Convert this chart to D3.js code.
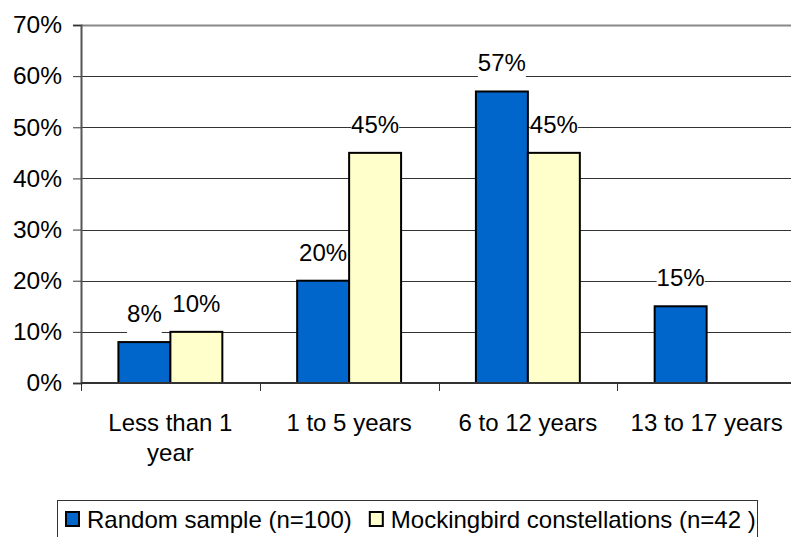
<!DOCTYPE html>
<html>
<head>
<meta charset="utf-8">
<script src="https://cdn.jsdelivr.net/npm/d3@7"></script>
<style>
  body { margin: 0; background: #fff; }
  text { font-family: "Liberation Sans", Arial, sans-serif; fill: #000; }
</style>
</head>
<body>
<div id="chart"></div>
<script>
var categories = ["Less than 1 year", "1 to 5 years", "6 to 12 years", "13 to 17 years"];
var categoryLines = [["Less than 1", "year"], ["1 to 5 years"], ["6 to 12 years"], ["13 to 17 years"]];
var seriesNames = ["Random sample (n=100)", "Mockingbird constellations (n=42 )"];
var randomSample = [8, 20, 57, 15];
var mockingbird = [10, 45, 45, null];
var yTicks = [0, 10, 20, 30, 40, 50, 60, 70];
var colors = ["#0066cc", "#ffffcc"];

var width = 791, height = 537;
var margin = {left: 81, top: 25, right: -5, bottom: 154};

var svg = d3.select("#chart").append("svg")
    .attr("width", width)
    .attr("height", height);

var x = d3.scaleBand()
    .domain(categories)
    .range([margin.left, width - margin.right]);

var y = d3.scaleLinear()
    .domain([0, 70])
    .range([height - margin.bottom, margin.top]);

var xs = d3.scaleBand()
    .domain([0, 1])
    .range([0, x.bandwidth()])
    .paddingInner(0)
    .paddingOuter(0.72);

// gridlines
svg.selectAll(".grid")
    .data(yTicks.filter(function(d) { return d > 0; }))
    .enter().append("line")
    .attr("x1", margin.left)
    .attr("x2", width)
    .attr("y1", function(d) { return Math.round(y(d)) + 0.5; })
    .attr("y2", function(d) { return Math.round(y(d)) + 0.5; })
    .attr("stroke", function(d) { return d == 70 ? "#888" : "#333"; })
    .attr("stroke-width", function(d) { return d == 70 ? 2 : 1; });

// y axis
var yAxis = svg.append("g")
    .attr("transform", "translate(" + margin.left + ",0)")
    .call(d3.axisLeft(y).tickValues(yTicks).tickSize(8).tickPadding(11)
      .tickFormat(function(d) { return d + "%"; }));
yAxis.select(".domain").attr("stroke", "#555").attr("stroke-width", 2);
yAxis.selectAll(".tick line").attr("stroke", "#333");
yAxis.selectAll("text")
    .style("font-size", "24.5px")
    .style("font-family", "'Liberation Sans', Arial, sans-serif")
    .attr("fill", "#000");

var series = [randomSample, mockingbird];

series.forEach(function(vals, si) {
  svg.selectAll(".bar" + si)
    .data(categories.map(function(c, i) { return {c: c, v: vals[i]}; }).filter(function(d) { return d.v != null; }))
    .enter().append("rect")
    .attr("x", function(d) { return x(d.c) + xs(si); })
    .attr("width", xs.bandwidth())
    .attr("y", function(d) { return y(d.v); })
    .attr("height", function(d) { return y(0) - y(d.v); })
    .attr("fill", colors[si])
    .attr("stroke", "#000")
    .attr("stroke-width", 2);
});

// x axis
var xAxisG = svg.append("g").attr("transform", "translate(0," + y(0) + ")");
xAxisG.append("line")
    .attr("x1", margin.left).attr("x2", width)
    .attr("stroke", "#333").attr("stroke-width", 2);
xAxisG.selectAll(".xtick")
    .data(categories)
    .enter().append("line")
    .attr("x1", function(d) { return Math.round(x(d)) + 0.5; })
    .attr("x2", function(d) { return Math.round(x(d)) + 0.5; })
    .attr("y1", 0).attr("y2", 8)
    .attr("stroke", "#333");

xAxisG.selectAll(".xlabel")
    .data(categories)
    .enter().append("text")
    .attr("text-anchor", "middle")
    .attr("x", function(d) { return x(d) + x.bandwidth() / 2; })
    .attr("y", 48)
    .style("font-size", "24px")
    .each(function(d, i) {
      var t = d3.select(this);
      categoryLines[i].forEach(function(line, li) {
        t.append("tspan")
          .attr("x", x(d) + x.bandwidth() / 2)
          .attr("dy", li == 0 ? 0 : 30)
          .text(line);
      });
    });

// data labels with white backgrounds
series.forEach(function(vals, si) {
  categories.forEach(function(c, i) {
    if (vals[i] == null) return;
    var cx = x(c) + xs(si) + xs.bandwidth() / 2;
    var g = svg.append("g");
    var t = g.append("text")
      .attr("text-anchor", "middle")
      .attr("x", cx)
      .attr("y", y(vals[i]) - 20)
      .style("font-size", "24px")
      .text(vals[i] + "%");
    var bb = t.node().getBBox();
    g.insert("rect", "text")
      .attr("x", bb.x)
      .attr("y", bb.y + 2)
      .attr("width", bb.width)
      .attr("height", bb.height + 4)
      .attr("fill", "#fff");
  });
});

// legend
var legend = svg.append("g");
legend.append("rect")
    .attr("x", 57.5).attr("y", 500.5)
    .attr("width", 700).attr("height", 50)
    .attr("fill", "#fff").attr("stroke", "#333");
var lx = 65;
seriesNames.forEach(function(name, i) {
  legend.append("rect")
    .attr("x", lx + 1).attr("y", 512)
    .attr("width", 13).attr("height", 14)
    .attr("fill", colors[i]).attr("stroke", "#000").attr("stroke-width", 2);
  var t = legend.append("text")
    .attr("x", lx + 22).attr("y", 528)
    .style("font-size", "24px")
    .text(name);
  lx = lx + 22 + t.node().getComputedTextLength() + 17;
});
</script>
</body>
</html>
